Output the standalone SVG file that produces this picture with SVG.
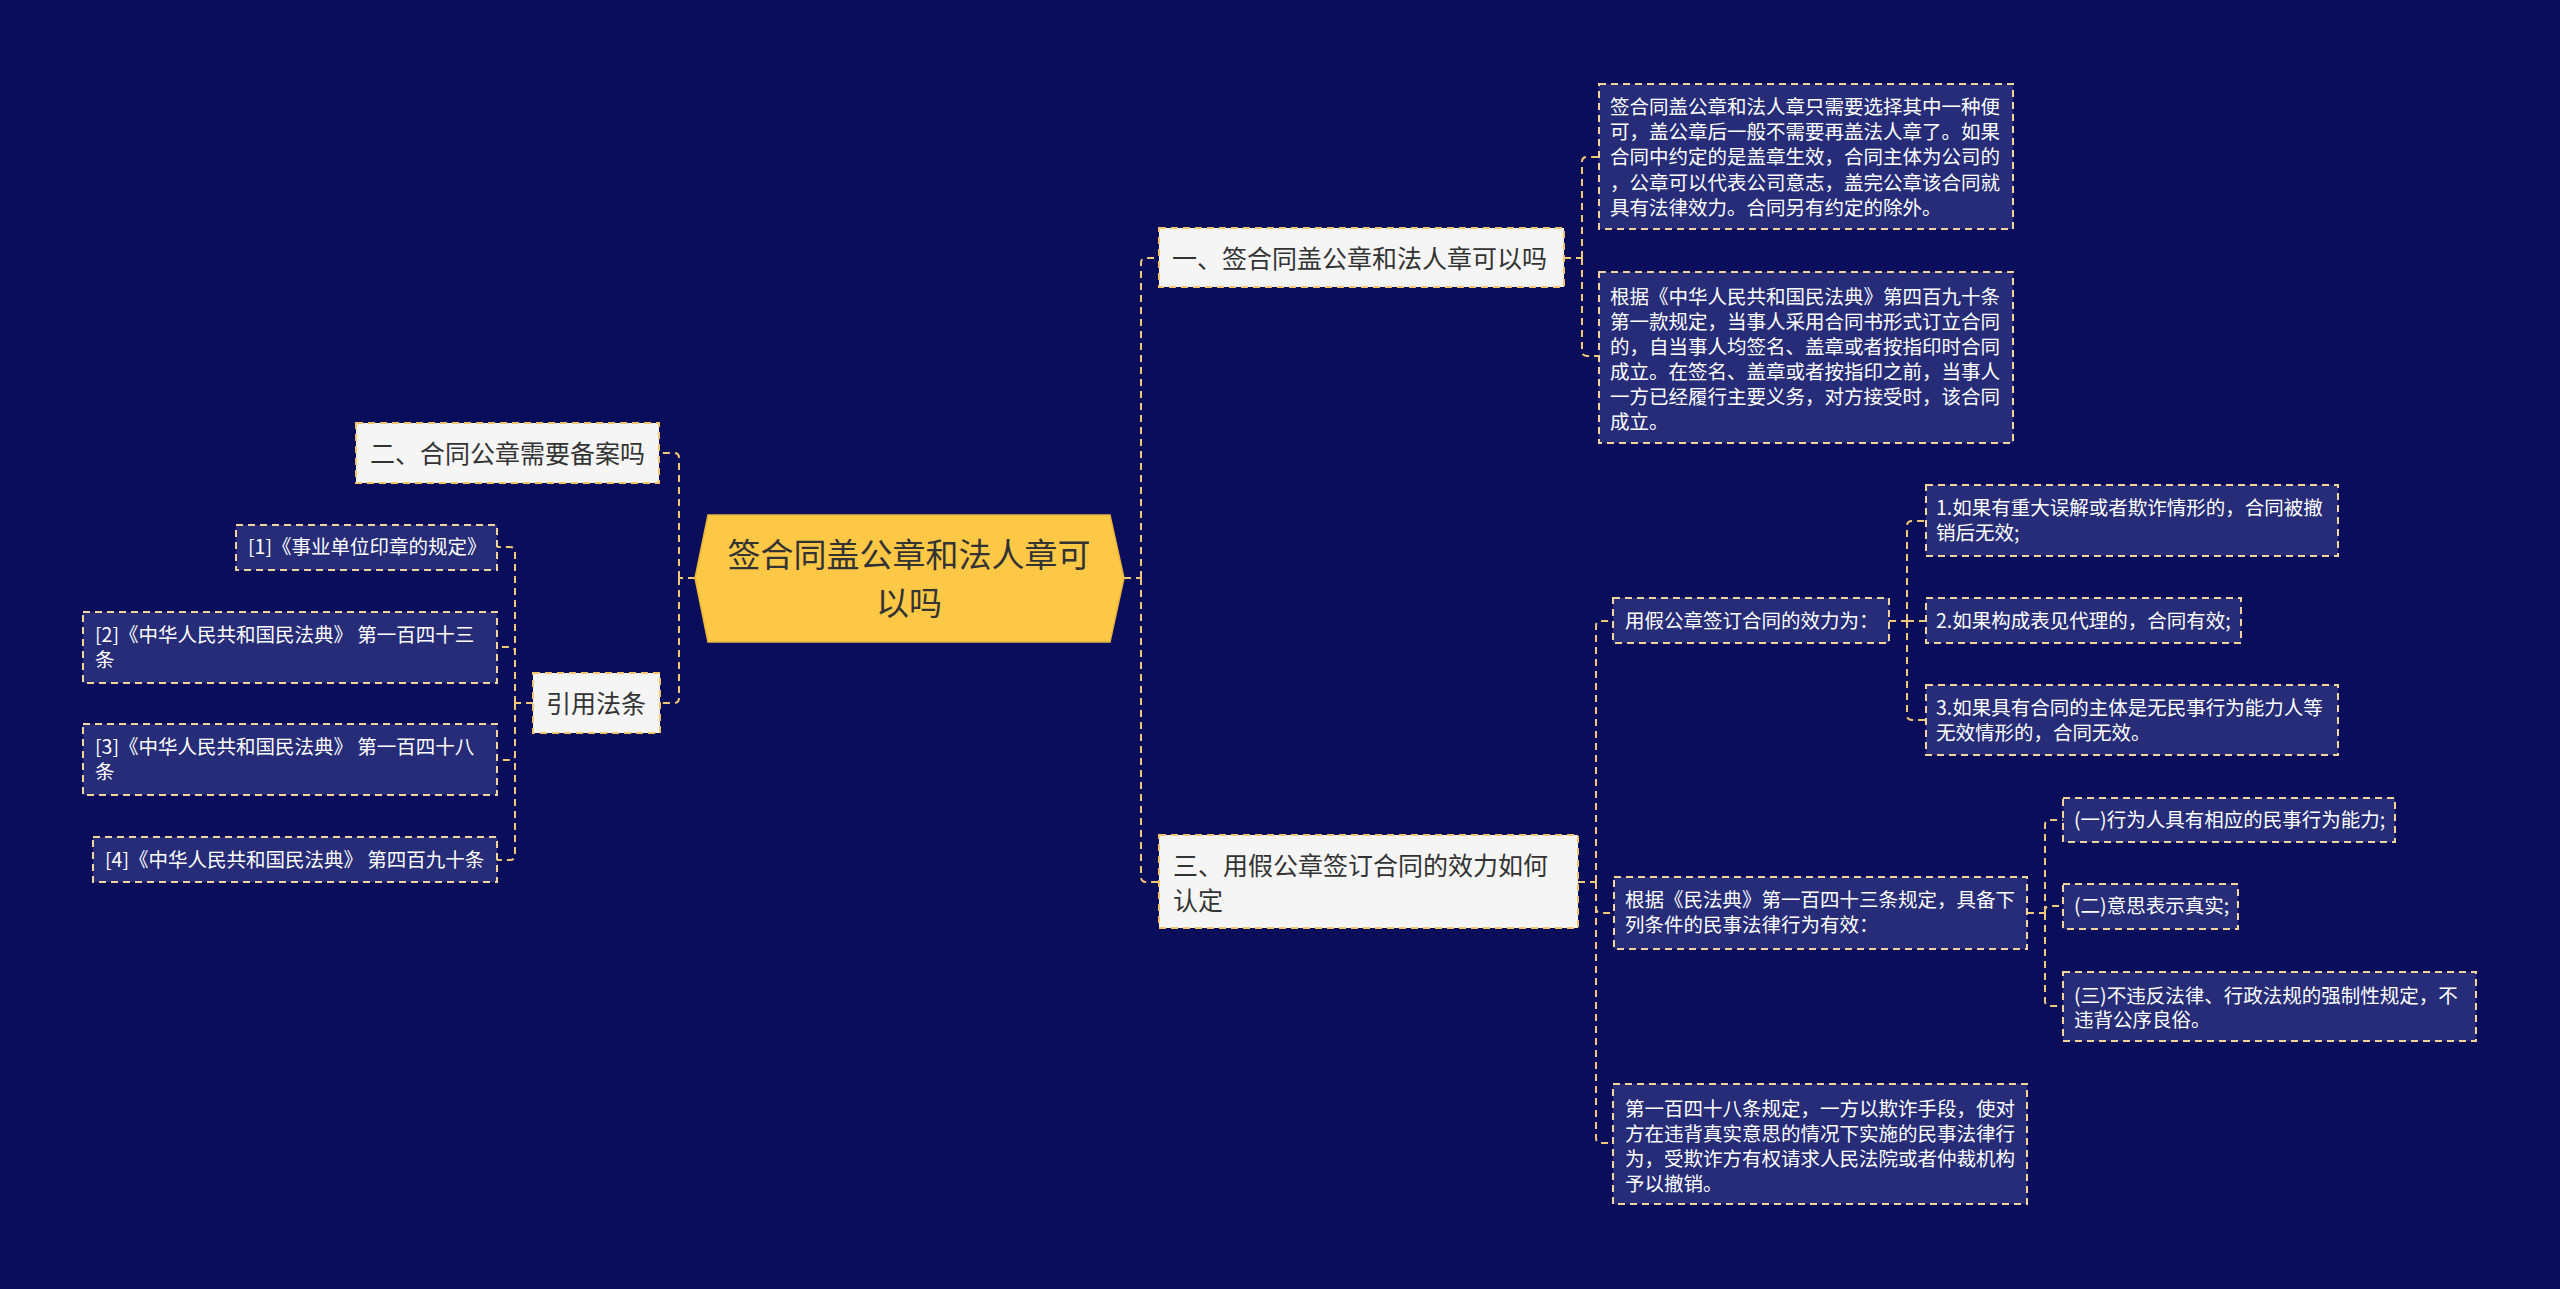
<svg xmlns="http://www.w3.org/2000/svg" width="2560" height="1289" viewBox="0 0 2560 1289">
<style>
.l1 rect{fill:#F5F5F5;stroke:#F1C46E;stroke-width:2;stroke-dasharray:7 5}
.l2 rect{fill:#262C77;stroke:#F3D59C;stroke-width:2;stroke-dasharray:7 5}
text{font-family:"Noto Sans CJK SC","Microsoft YaHei",sans-serif;dominant-baseline:central;transform:translate(0px,-1.5px)}
.l1 text{font-size:25px;fill:#333333}
.l2 text{font-size:19.5px;fill:#FFFFFF}
.root text{font-size:33px;fill:#333333;transform:translate(0px,-2.5px)}
.conn path{fill:none;stroke:#EFC878;stroke-width:2;stroke-dasharray:7 5}
</style>
<rect width="2560" height="1289" fill="#0A0E5A"/>
<g class="conn" id="connectors">
<path d="M1124,578 H1141"/>
<path d="M1141,578 V263 Q1141,258 1146,258 H1159"/>
<path d="M1141,578 V877 Q1141,882 1146,882 H1159"/>
<path d="M695,578 H679"/>
<path d="M679,578 V458 Q679,453 674,453 H659"/>
<path d="M679,578 V698 Q679,703 674,703 H660"/>
<path d="M1564,258 H1582"/>
<path d="M1582,258 V162 Q1582,157 1587,157 H1599"/>
<path d="M1582,258 V351 Q1582,356 1587,356 H1599"/>
<path d="M1578,882 H1596"/>
<path d="M1596,882 V626 Q1596,621 1601,621 H1613"/>
<path d="M1596,882 V908 Q1596,913 1601,913 H1614"/>
<path d="M1596,882 V1138 Q1596,1143 1601,1143 H1613"/>
<path d="M1889,621 H1907"/>
<path d="M1907,621 V526 Q1907,521 1912,521 H1926"/>
<path d="M1907,621 H1926"/>
<path d="M1907,621 V715 Q1907,720 1912,720 H1926"/>
<path d="M2027,913 H2045"/>
<path d="M2045,913 V825 Q2045,820 2050,820 H2063"/>
<path d="M2045,913 V911 Q2045,906 2050,906 H2063"/>
<path d="M2045,913 V1001 Q2045,1006 2050,1006 H2063"/>
<path d="M533,703 H515"/>
<path d="M515,703 V552 Q515,547 510,547 H497"/>
<path d="M515,703 V652 Q515,647 510,647 H497"/>
<path d="M515,703 V755 Q515,760 510,760 H497"/>
<path d="M515,703 V855 Q515,860 510,860 H497"/>
</g>
<g id="root" class="root">
<polygon points="708,515 1110,515 1124,578 1110,642 708,642 695,578" fill="#FEC847" stroke="#E9B43C" stroke-width="1.5"/>
<text x="909" y="555" text-anchor="middle">签合同盖公章和法人章可</text>
<text x="909" y="603" text-anchor="middle">以吗</text>
</g>
<g id="n1" class="l1">
<rect x="1159" y="228" width="405" height="59"/>
<text x="1172" y="258">一、签合同盖公章和法人章可以吗</text>
</g>
<g id="n1a" class="l2">
<rect x="1599" y="84" width="414" height="145"/>
<text x="1610" y="107">签合同盖公章和法人章只需要选择其中一种便</text>
<text x="1610" y="132">可，盖公章后一般不需要再盖法人章了。如果</text>
<text x="1610" y="157">合同中约定的是盖章生效，合同主体为公司的</text>
<text x="1610" y="183">，公章可以代表公司意志，盖完公章该合同就</text>
<text x="1610" y="208">具有法律效力。合同另有约定的除外。</text>
</g>
<g id="n1b" class="l2">
<rect x="1599" y="272" width="414" height="171"/>
<text x="1610" y="297">根据《中华人民共和国民法典》第四百九十条</text>
<text x="1610" y="322">第一款规定，当事人采用合同书形式订立合同</text>
<text x="1610" y="347">的，自当事人均签名、盖章或者按指印时合同</text>
<text x="1610" y="372">成立。在签名、盖章或者按指印之前，当事人</text>
<text x="1610" y="397">一方已经履行主要义务，对方接受时，该合同</text>
<text x="1610" y="422">成立。</text>
</g>
<g id="n3" class="l1">
<rect x="1159" y="835" width="419" height="93"/>
<text x="1173" y="865">三、用假公章签订合同的效力如何</text>
<text x="1173" y="900">认定</text>
</g>
<g id="n3a" class="l2">
<rect x="1613" y="598" width="276" height="45"/>
<text x="1625" y="621">用假公章签订合同的效力为：</text>
</g>
<g id="n3a1" class="l2">
<rect x="1926" y="485" width="412" height="71"/>
<text x="1936" y="508">1.如果有重大误解或者欺诈情形的，合同被撤</text>
<text x="1936" y="533">销后无效;</text>
</g>
<g id="n3a2" class="l2">
<rect x="1926" y="598" width="315" height="45"/>
<text x="1936" y="621">2.如果构成表见代理的，合同有效;</text>
</g>
<g id="n3a3" class="l2">
<rect x="1926" y="685" width="412" height="70"/>
<text x="1936" y="708">3.如果具有合同的主体是无民事行为能力人等</text>
<text x="1936" y="733">无效情形的，合同无效。</text>
</g>
<g id="n3b" class="l2">
<rect x="1614" y="877" width="413" height="72"/>
<text x="1625" y="900">根据《民法典》第一百四十三条规定，具备下</text>
<text x="1625" y="925">列条件的民事法律行为有效：</text>
</g>
<g id="n3b1" class="l2">
<rect x="2063" y="798" width="332" height="44"/>
<text x="2074" y="820">(一)行为人具有相应的民事行为能力;</text>
</g>
<g id="n3b2" class="l2">
<rect x="2063" y="884" width="175" height="45"/>
<text x="2074" y="906">(二)意思表示真实;</text>
</g>
<g id="n3b3" class="l2">
<rect x="2063" y="972" width="413" height="69"/>
<text x="2074" y="996">(三)不违反法律、行政法规的强制性规定，不</text>
<text x="2074" y="1020">违背公序良俗。</text>
</g>
<g id="n3c" class="l2">
<rect x="1613" y="1084" width="414" height="120"/>
<text x="1625" y="1109">第一百四十八条规定，一方以欺诈手段，使对</text>
<text x="1625" y="1134">方在违背真实意思的情况下实施的民事法律行</text>
<text x="1625" y="1159">为，受欺诈方有权请求人民法院或者仲裁机构</text>
<text x="1625" y="1184">予以撤销。</text>
</g>
<g id="n2" class="l1">
<rect x="356" y="423" width="303" height="60"/>
<text x="370" y="453">二、合同公章需要备案吗</text>
</g>
<g id="ref" class="l1">
<rect x="533" y="673" width="127" height="60"/>
<text x="546" y="703">引用法条</text>
</g>
<g id="ref1" class="l2">
<rect x="236" y="525" width="261" height="45"/>
<text x="248" y="547">[1]《事业单位印章的规定》</text>
</g>
<g id="ref2" class="l2">
<rect x="83" y="612" width="414" height="71"/>
<text x="95" y="635">[2]《中华人民共和国民法典》 第一百四十三</text>
<text x="95" y="660">条</text>
</g>
<g id="ref3" class="l2">
<rect x="83" y="724" width="414" height="71"/>
<text x="95" y="747">[3]《中华人民共和国民法典》 第一百四十八</text>
<text x="95" y="772">条</text>
</g>
<g id="ref4" class="l2">
<rect x="93" y="837" width="404" height="45"/>
<text x="105" y="860">[4]《中华人民共和国民法典》 第四百九十条</text>
</g>
</svg>
